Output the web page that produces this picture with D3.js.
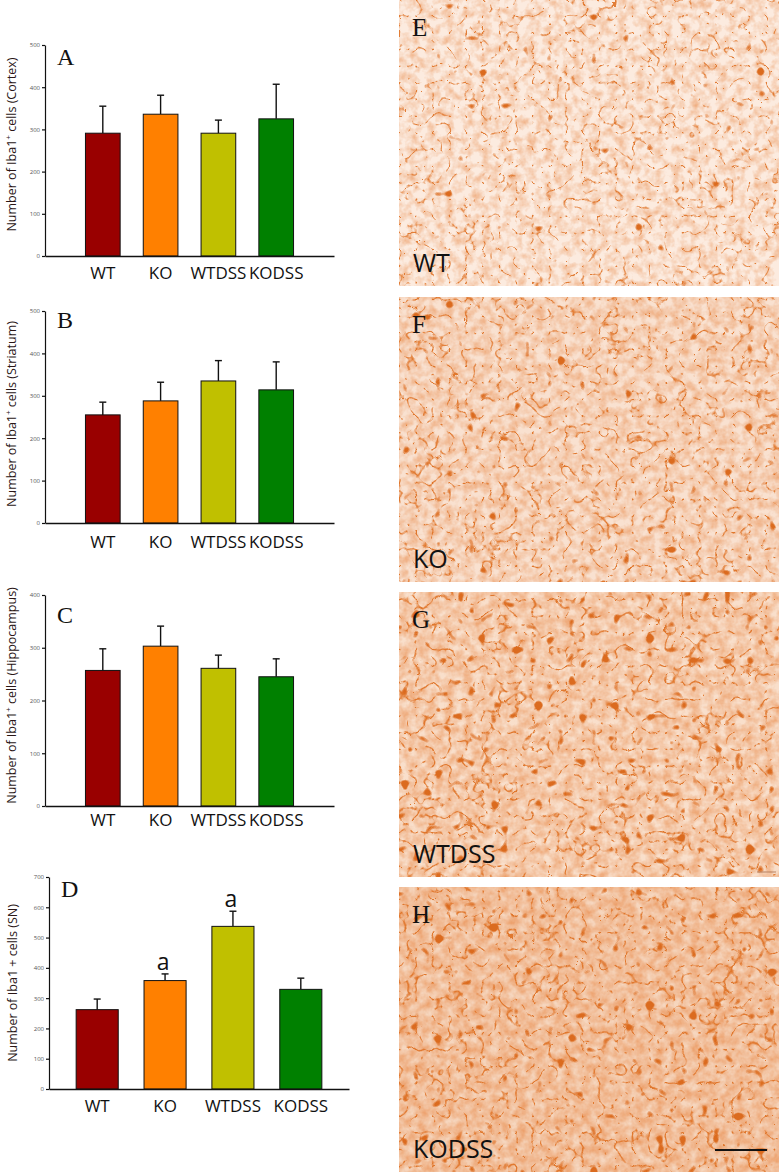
<!DOCTYPE html>
<html lang="en">
<head>
<meta charset="UTF-8">
<title>Iba1+ cells</title>
<script src="https://d3js.org/d3.v7.min.js"></script>
<style>
    body { margin: 0; background: #fff; }
    svg { display: block; }
    .tick text { font-family: "Open Sans", sans-serif; }
    .yaxis .tick text { font-size: 6px; fill: #555; }
    .xaxis .tick text { font-size: 17px; fill: #111; }
    .panel-letter { font-family: "Liberation Serif", serif; font-size: 24px; fill: #111; }
    .ylabel { font-family: "Open Sans", sans-serif; font-size: 12.5px; fill: #2a1616; }
    .sig { font-family: "Open Sans", sans-serif; font-size: 23px; fill: #111; }
    .img-letter { font-family: "Liberation Serif", serif; font-size: 25px; fill: #111; }
    .img-group { font-family: "Open Sans", sans-serif; font-size: 25px; fill: #111; }
</style>
</head>
<body>
<svg id="fig" width="782" height="1174"></svg>
<script>
    // groups and colours
    let groups = ["WT", "KO", "WTDSS", "KODSS"];
    let barColors = ["#990000", "#ff8000", "#c0c000", "#008000"];

    // Iba1+ cell counts (mean and upper error)
    let cortexMean = [291, 336, 291, 325];
    let cortexErr = [64, 45, 31, 82];
    let striatumMean = [255, 288, 335, 314];
    let striatumErr = [30, 44, 48, 66];
    let hippoMean = [257, 303, 261, 245];
    let hippoErr = [41, 38, 25, 34];
    let snMean = [262, 358, 537, 329];
    let snErr = [35, 22, 50, 37];
    let snSig = ["", "a", "a", ""];

    let ticks500 = [0, 100, 200, 300, 400, 500];
    let ticks400 = [0, 100, 200, 300, 400];
    let ticks700 = [0, 100, 200, 300, 400, 500, 600, 700];

    let panels = [
        {letter: "A", region: "(Cortex)", sup: true, mean: cortexMean, err: cortexErr, sig: null, ticks: ticks500,
         x0: 45, x1: 334, top: 45, bottom: 256, pi: 0.4, po: 0.7, pad: 11, labX: 12, labDy: -6, letterY: 65},
        {letter: "B", region: "(Striatum)", sup: true, mean: striatumMean, err: striatumErr, sig: null, ticks: ticks500,
         x0: 45, x1: 334, top: 311, bottom: 523, pi: 0.4, po: 0.7, pad: 13, labX: 12, labDy: -3, letterY: 328},
        {letter: "C", region: "(Hippocampus)", sup: true, mean: hippoMean, err: hippoErr, sig: null, ticks: ticks400,
         x0: 45, x1: 334, top: 595, bottom: 806, pi: 0.4, po: 0.7, pad: 8, labX: 12, labDy: -5, letterY: 623},
        {letter: "D", region: "(SN)", sup: false, mean: snMean, err: snErr, sig: snSig, ticks: ticks700,
         x0: 49, x1: 349, top: 877, bottom: 1089, pi: 0.38, po: 0.4, pad: 11, labX: 13, labDy: 0, letterY: 897}
    ];

    // micrograph tiles (stain strength goes up from E to H)
    let images = [
        {letter: "E", group: "WT", top: 0, bottom: 286, base: "#fcebdf", mottle: -0.50, lines: 0.95, spots: -9.2, seed: 3},
        {letter: "F", group: "KO", top: 297, bottom: 582, base: "#f9e1d0", mottle: -0.42, lines: 1.05, spots: -9.0, seed: 7},
        {letter: "G", group: "WTDSS", top: 592, bottom: 877, base: "#f9dfcb", mottle: -0.34, lines: 1.15, spots: -8.6, seed: 11},
        {letter: "H", group: "KODSS", top: 887, bottom: 1172, base: "#f6d6be", mottle: -0.26, lines: 1.15, spots: -8.7, seed: 17}
    ];

    let svg = d3.select("#fig");
    let defs = svg.append("defs");

    panels.forEach(function (p) {
        let g = svg.append("g");
        let x = d3.scaleBand().domain(groups).range([p.x0, p.x1])
            .paddingInner(p.pi).paddingOuter(p.po);
        let y = d3.scaleLinear().domain([0, d3.max(p.ticks)]).range([p.bottom, p.top]);

        let rows = groups.map(function (k, i) {
            return {group: k, mean: p.mean[i], err: p.err[i], color: barColors[i], sig: p.sig ? p.sig[i] : ""};
        });

        // error bars (upper only)
        let eb = g.selectAll(".eb").data(rows).enter().append("g").attr("class", "eb");
        eb.append("line")
            .attr("x1", d => x(d.group) + x.bandwidth() / 2)
            .attr("x2", d => x(d.group) + x.bandwidth() / 2)
            .attr("y1", d => y(d.mean))
            .attr("y2", d => y(d.mean + d.err))
            .attr("stroke", "#111").attr("stroke-width", 1.4);
        eb.append("line")
            .attr("x1", d => x(d.group) + x.bandwidth() / 2 - 3.5)
            .attr("x2", d => x(d.group) + x.bandwidth() / 2 + 3.5)
            .attr("y1", d => y(d.mean + d.err))
            .attr("y2", d => y(d.mean + d.err))
            .attr("stroke", "#111").attr("stroke-width", 1.4);

        g.selectAll("rect.bar").data(rows).enter().append("rect")
            .attr("class", "bar")
            .attr("x", d => x(d.group))
            .attr("width", x.bandwidth())
            .attr("y", d => y(d.mean))
            .attr("height", d => y(0) - y(d.mean))
            .attr("fill", d => d.color)
            .attr("stroke", "#111").attr("stroke-width", 1);

        g.selectAll("text.sig").data(rows.filter(d => d.sig)).enter().append("text")
            .attr("class", "sig")
            .attr("text-anchor", "middle")
            .attr("x", d => x(d.group) + x.bandwidth() / 2 - 2)
            .attr("y", d => y(d.mean + d.err) - 4)
            .text(d => d.sig);

        let yAxis = g.append("g").attr("class", "yaxis")
            .attr("transform", "translate(" + p.x0 + ",0)")
            .call(d3.axisLeft(y).tickValues(p.ticks).tickSize(3).tickSizeOuter(0).tickPadding(2));
        yAxis.selectAll("path, line").attr("stroke", "#111").attr("stroke-width", 1.2);

        let xAxis = g.append("g").attr("class", "xaxis")
            .attr("transform", "translate(0," + p.bottom + ")")
            .call(d3.axisBottom(x).tickSize(0).tickSizeOuter(0).tickPadding(p.pad));
        xAxis.select(".domain").attr("stroke", "#111").attr("stroke-width", 1.4);

        g.append("text").attr("class", "panel-letter")
            .attr("x", p.x0 + 12).attr("y", p.letterY).text(p.letter);

        let lab = g.append("text").attr("class", "ylabel")
            .attr("text-anchor", "middle")
            .attr("transform", "translate(" + p.labX + "," + ((p.top + p.bottom) / 2 + p.labDy) + ") rotate(-90)")
            .attr("dy", "0.35em");
        if (p.sup) {
            lab.append("tspan").text("Number of Iba1");
            lab.append("tspan").attr("baseline-shift", "super").attr("font-size", "8px").text("+");
            lab.append("tspan").text(" cells " + p.region);
        } else {
            lab.text("Number of Iba1 + cells " + p.region);
        }
    });

    // micrographs (textured stand-ins)
    let imgX0 = 399, imgX1 = 779;
    images.forEach(function (m, i) {
        let f = defs.append("filter").attr("id", "tex" + i)
            .attr("x", 0).attr("y", 0).attr("width", 1).attr("height", 1)
            .attr("color-interpolation-filters", "sRGB");
        // fine mottled background
        f.append("feTurbulence").attr("type", "fractalNoise").attr("baseFrequency", 0.11)
            .attr("numOctaves", 3).attr("seed", m.seed + 1).attr("result", "n");
        f.append("feColorMatrix").attr("in", "n").attr("type", "matrix")
            .attr("values", "0 0 0 0 0.92  0 0 0 0 0.60  0 0 0 0 0.38  1.3 0 0 0 " + m.mottle)
            .attr("result", "mottle");
        // thin branching processes
        f.append("feTurbulence").attr("type", "turbulence").attr("baseFrequency", 0.06)
            .attr("numOctaves", 2).attr("seed", m.seed).attr("result", "t");
        f.append("feColorMatrix").attr("in", "t").attr("type", "matrix")
            .attr("values", "0 0 0 0 0.88  0 0 0 0 0.47  0 0 0 0 0.18  -10 0 0 0 " + m.lines)
            .attr("result", "lines");
        // cell bodies
        f.append("feTurbulence").attr("type", "fractalNoise").attr("baseFrequency", 0.09)
            .attr("numOctaves", 1).attr("seed", m.seed + 5).attr("result", "s");
        f.append("feColorMatrix").attr("in", "s").attr("type", "matrix")
            .attr("values", "0 0 0 0 0.86  0 0 0 0 0.42  0 0 0 0 0.12  13 0 0 0 " + m.spots)
            .attr("result", "spots");
        let merge = f.append("feMerge");
        merge.append("feMergeNode").attr("in", "mottle");
        merge.append("feMergeNode").attr("in", "lines");
        merge.append("feMergeNode").attr("in", "spots");

        let g = svg.append("g");
        g.append("rect").attr("x", imgX0).attr("y", m.top)
            .attr("width", imgX1 - imgX0).attr("height", m.bottom - m.top)
            .attr("fill", m.base);
        g.append("rect").attr("x", imgX0).attr("y", m.top)
            .attr("width", imgX1 - imgX0).attr("height", m.bottom - m.top)
            .attr("fill", "#000").attr("filter", "url(#tex" + i + ")");
        g.append("text").attr("class", "img-letter")
            .attr("x", imgX0 + 13).attr("y", m.top + 36).text(m.letter);
        g.append("text").attr("class", "img-group")
            .attr("x", imgX0 + 14).attr("y", m.bottom - 14).text(m.group);
    });

    // scale bars
    svg.append("line").attr("x1", 715).attr("x2", 767).attr("y1", 1150).attr("y2", 1150)
        .attr("stroke", "#111").attr("stroke-width", 2);
    svg.append("line").attr("x1", 757).attr("x2", 776).attr("y1", 872).attr("y2", 872)
        .attr("stroke", "#b07a5a").attr("stroke-width", 1.5).attr("opacity", 0.6);
</script>
</body>
</html>
